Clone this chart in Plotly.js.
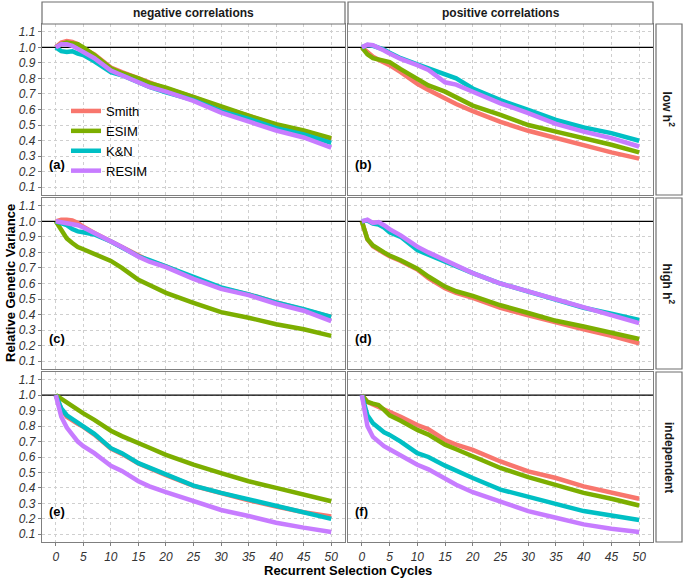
<!DOCTYPE html>
<html>
<head>
<meta charset="utf-8">
<script src="https://cdn.plot.ly/plotly-3.0.1.min.js"></script>
<style>html,body{margin:0;padding:0;background:#fff;}#chart{width:685px;height:579px;}</style>
</head>
<body>
<div id="chart"></div>
<script>
// ---- data ----
const cycles = [0,1,2,3,4,5,7,10,12,15,17,20,25,30,35,40,45,50];
const seriesNames = ["Smith","ESIM","K&N","RESIM"];
const seriesColors = ["#F8766D","#7CAE00","#00BFC4","#C77CFF"];
const panelLabels = ["(a)","(b)","(c)","(d)","(e)","(f)"];
const colStrips = ["negative correlations","positive correlations"];
const rowStrips = ["low h<sup>2</sup>","high h<sup>2</sup>","independent"];
const yTickVals = [0.1,0.2,0.3,0.4,0.5,0.6,0.7,0.8,0.9,1.0,1.1];
const yTickText = ["0.1","0.2","0.3","0.4","0.5","0.6","0.7","0.8","0.9","1.0","1.1"];
const xTickVals = [0,5,10,15,20,25,30,35,40,45,50];
const xRange = [-2.5, 52.5];
const yRange = [0.05, 1.15];
const refLevel = 1.0;   // reference variance level (horizontal line)

// (a) negative correlations, low h2
const a_Smith = [1.0,1.03,1.04,1.035,1.02,0.99,0.955,0.87,0.84,0.80,0.77,0.735,0.68,0.61,0.56,0.50,0.46,0.41];
const a_ESIM  = [1.0,1.02,1.03,1.025,1.02,1.0,0.95,0.865,0.835,0.80,0.77,0.74,0.68,0.615,0.56,0.505,0.465,0.415];
const a_KN    = [1.0,0.975,0.97,0.975,0.96,0.95,0.91,0.84,0.82,0.775,0.745,0.71,0.66,0.59,0.54,0.48,0.44,0.385];
const a_RESIM = [1.0,1.02,1.02,1.01,0.99,0.97,0.93,0.85,0.82,0.775,0.745,0.715,0.655,0.58,0.525,0.465,0.42,0.355];
// (b) positive correlations, low h2
const b_Smith = [1.0,0.965,0.94,0.92,0.905,0.885,0.84,0.765,0.725,0.67,0.635,0.59,0.52,0.463,0.416,0.367,0.324,0.284];
const b_ESIM  = [1.0,0.955,0.93,0.92,0.915,0.905,0.86,0.80,0.755,0.715,0.68,0.625,0.565,0.50,0.458,0.416,0.373,0.324];
const b_KN    = [1.0,1.015,1.01,1.0,0.985,0.965,0.93,0.89,0.865,0.83,0.80,0.735,0.66,0.597,0.533,0.484,0.448,0.399];
const b_RESIM = [1.0,1.017,1.013,1.0,0.98,0.96,0.925,0.885,0.855,0.775,0.76,0.714,0.64,0.576,0.507,0.458,0.416,0.362];
// (c) negative correlations, high h2
const c_Smith = [1.0,1.01,1.01,1.005,0.99,0.965,0.925,0.87,0.835,0.775,0.745,0.71,0.635,0.57,0.53,0.478,0.435,0.385];
const c_ESIM  = [1.0,0.94,0.89,0.86,0.835,0.82,0.79,0.745,0.70,0.624,0.59,0.54,0.476,0.416,0.38,0.338,0.306,0.263];
const c_KN    = [1.0,0.99,0.975,0.95,0.935,0.93,0.915,0.87,0.835,0.775,0.75,0.71,0.64,0.575,0.53,0.478,0.435,0.385];
const c_RESIM = [1.0,0.995,0.99,0.985,0.975,0.96,0.925,0.87,0.835,0.772,0.74,0.705,0.63,0.565,0.525,0.47,0.425,0.358];
// (d) positive correlations, high h2
const d_Smith = [1.0,0.885,0.84,0.815,0.795,0.775,0.745,0.69,0.635,0.57,0.54,0.507,0.444,0.395,0.348,0.306,0.263,0.215];
const d_ESIM  = [1.0,0.885,0.845,0.82,0.80,0.78,0.75,0.695,0.645,0.58,0.55,0.52,0.46,0.41,0.36,0.323,0.285,0.243];
const d_KN    = [1.0,1.005,0.985,0.98,0.96,0.93,0.90,0.815,0.785,0.74,0.705,0.667,0.60,0.55,0.497,0.444,0.405,0.365];
const d_RESIM = [1.0,1.01,0.99,0.995,0.975,0.95,0.91,0.837,0.80,0.75,0.715,0.667,0.60,0.55,0.497,0.444,0.40,0.345];
// (e) independent, negative column
const e_Smith = [1.0,0.91,0.86,0.835,0.815,0.795,0.745,0.655,0.62,0.558,0.525,0.483,0.413,0.363,0.32,0.28,0.243,0.215];
const e_ESIM  = [1.0,0.975,0.95,0.925,0.905,0.882,0.84,0.77,0.735,0.694,0.66,0.614,0.55,0.496,0.443,0.40,0.357,0.314];
const e_KN    = [1.0,0.915,0.87,0.845,0.82,0.80,0.75,0.657,0.625,0.56,0.53,0.486,0.415,0.368,0.325,0.282,0.244,0.20];
const e_RESIM = [1.0,0.86,0.79,0.74,0.70,0.67,0.625,0.543,0.51,0.443,0.41,0.372,0.314,0.257,0.218,0.175,0.143,0.115];
// (f) independent, positive column
const f_Smith = [1.0,0.957,0.94,0.925,0.91,0.893,0.86,0.807,0.78,0.71,0.68,0.646,0.571,0.507,0.464,0.41,0.368,0.33];
const f_ESIM  = [1.0,0.957,0.945,0.936,0.905,0.87,0.835,0.775,0.745,0.68,0.65,0.604,0.529,0.47,0.42,0.368,0.33,0.286];
const f_KN    = [1.0,0.87,0.818,0.786,0.76,0.743,0.70,0.625,0.60,0.544,0.51,0.464,0.389,0.342,0.293,0.25,0.222,0.192];
const f_RESIM = [1.0,0.80,0.73,0.695,0.67,0.65,0.61,0.55,0.52,0.458,0.42,0.372,0.308,0.25,0.207,0.164,0.136,0.115];

const panelData = [
  [a_Smith,a_ESIM,a_KN,a_RESIM],
  [b_Smith,b_ESIM,b_KN,b_RESIM],
  [c_Smith,c_ESIM,c_KN,c_RESIM],
  [d_Smith,d_ESIM,d_KN,d_RESIM],
  [e_Smith,e_ESIM,e_KN,e_RESIM],
  [f_Smith,f_ESIM,f_KN,f_RESIM]
];

// ---- layout geometry (pixels) ----
const W = 685, H = 579;
const colPx = [[42,345],[348,653]];
const rowPx = [[24,195],[198,369],[372,542]];
const px = v => v / W;
const py = v => 1 - v / H;

const traces = [];
const layout = {
  width: W, height: H,
  margin: {l:0,r:0,t:0,b:0},
  paper_bgcolor: "#ffffff",
  plot_bgcolor: "#ffffff",
  font: {family: "Liberation Sans, Arial, sans-serif", color: "#000"},
  showlegend: true,
  legend: {
    x: px(66), y: py(96), xanchor: "left", yanchor: "top",
    bgcolor: "rgba(255,255,255,0)",
    font: {size: 13, color: "#000"},
    itemwidth: 30,
    tracegroupgap: 0
  },
  shapes: [],
  annotations: []
};

for (let p = 0; p < 6; p++) {
  const row = Math.floor(p / 2), col = p % 2;
  const suffix = p === 0 ? "" : String(p + 1);
  const xa = "x" + suffix, ya = "y" + suffix;
  // horizontal reference line at 1.0, drawn under the series
  traces.push({
    type: "scatter", mode: "lines",
    x: xRange, y: [refLevel, refLevel],
    xaxis: xa, yaxis: ya,
    showlegend: false, hoverinfo: "skip",
    line: {color: "#000", width: 1.2}
  });
  panelData[p].forEach((vals, s) => {
    traces.push({
      type: "scatter", mode: "lines",
      x: cycles, y: vals,
      xaxis: xa, yaxis: ya,
      name: seriesNames[s],
      legendgroup: seriesNames[s],
      showlegend: p === 0,
      line: {color: seriesColors[s], width: 4.5},
      hoverinfo: "skip"
    });
  });
  const isBottom = row === 2, isLeft = col === 0;
  layout["xaxis" + suffix] = {
    domain: [px(colPx[col][0]), px(colPx[col][1])],
    anchor: ya,
    range: xRange,
    tickvals: xTickVals,
    showticklabels: isBottom,
    ticks: isBottom ? "outside" : "",
    ticklen: 3, tickcolor: "#7f7f7f",
    tickfont: {size: 12, color: "#333", family: "Liberation Sans, Arial, sans-serif", style: "italic"},
    showgrid: true, gridcolor: "#cfcfcf", griddash: "dot", gridwidth: 1,
    zeroline: false,
    showline: true, mirror: true, linecolor: "#7f7f7f", linewidth: 1.2,
    fixedrange: true
  };
  layout["yaxis" + suffix] = {
    domain: [py(rowPx[row][1]), py(rowPx[row][0])],
    anchor: xa,
    range: yRange,
    tickvals: yTickVals, ticktext: yTickText,
    showticklabels: isLeft,
    ticks: isLeft ? "outside" : "",
    ticklen: 3, tickcolor: "#7f7f7f",
    tickfont: {size: 12, color: "#333", family: "Liberation Sans, Arial, sans-serif", style: "italic"},
    showgrid: true, gridcolor: "#cfcfcf", griddash: "dot", gridwidth: 1,
    zeroline: false,
    showline: true, mirror: true, linecolor: "#7f7f7f", linewidth: 1.2,
    fixedrange: true
  };
  layout.annotations.push({
    text: "<b>" + panelLabels[p] + "</b>",
    xref: xa, yref: ya, x: -1.6, y: 0.245,
    xanchor: "left", yanchor: "middle", showarrow: false,
    font: {size: 13, color: "#000"}
  });
}

// column strips
colStrips.forEach((t, c) => {
  layout.shapes.push({
    type: "rect", xref: "paper", yref: "paper",
    x0: px(colPx[c][0]), x1: px(colPx[c][1]), y0: py(24), y1: py(2),
    fillcolor: "#ffffff", line: {color: "#6f6f6f", width: 1.2}
  });
  layout.annotations.push({
    text: "<b>" + t + "</b>", xref: "paper", yref: "paper",
    x: px((colPx[c][0] + colPx[c][1]) / 2), y: py(13),
    xanchor: "center", yanchor: "middle", showarrow: false,
    font: {size: 12, color: "#1a1a1a"}
  });
});
// row strips
rowStrips.forEach((t, r) => {
  layout.shapes.push({
    type: "rect", xref: "paper", yref: "paper",
    x0: px(656), x1: px(682), y0: py(rowPx[r][1]), y1: py(rowPx[r][0]),
    fillcolor: "#ffffff", line: {color: "#6f6f6f", width: 1.2}
  });
  layout.annotations.push({
    text: "<b>" + t + "</b>", xref: "paper", yref: "paper",
    x: px(669), y: py((rowPx[r][0] + rowPx[r][1]) / 2),
    xanchor: "center", yanchor: "middle", showarrow: false, textangle: 90,
    font: {size: 12, color: "#1a1a1a"}
  });
});

// axis titles
layout.annotations.push({
  text: "<b>Relative Genetic Variance</b>", xref: "paper", yref: "paper",
  x: px(10), y: py(283), xanchor: "center", yanchor: "middle",
  textangle: -90, showarrow: false, font: {size: 13, color: "#000"}
});
layout.annotations.push({
  text: "<b>Recurrent Selection Cycles</b>", xref: "paper", yref: "paper",
  x: px(348), y: py(570), xanchor: "center", yanchor: "middle",
  showarrow: false, font: {size: 13, color: "#000"}
});

Plotly.newPlot("chart", traces, layout, {staticPlot: true, displayModeBar: false});
</script>
</body>
</html>
